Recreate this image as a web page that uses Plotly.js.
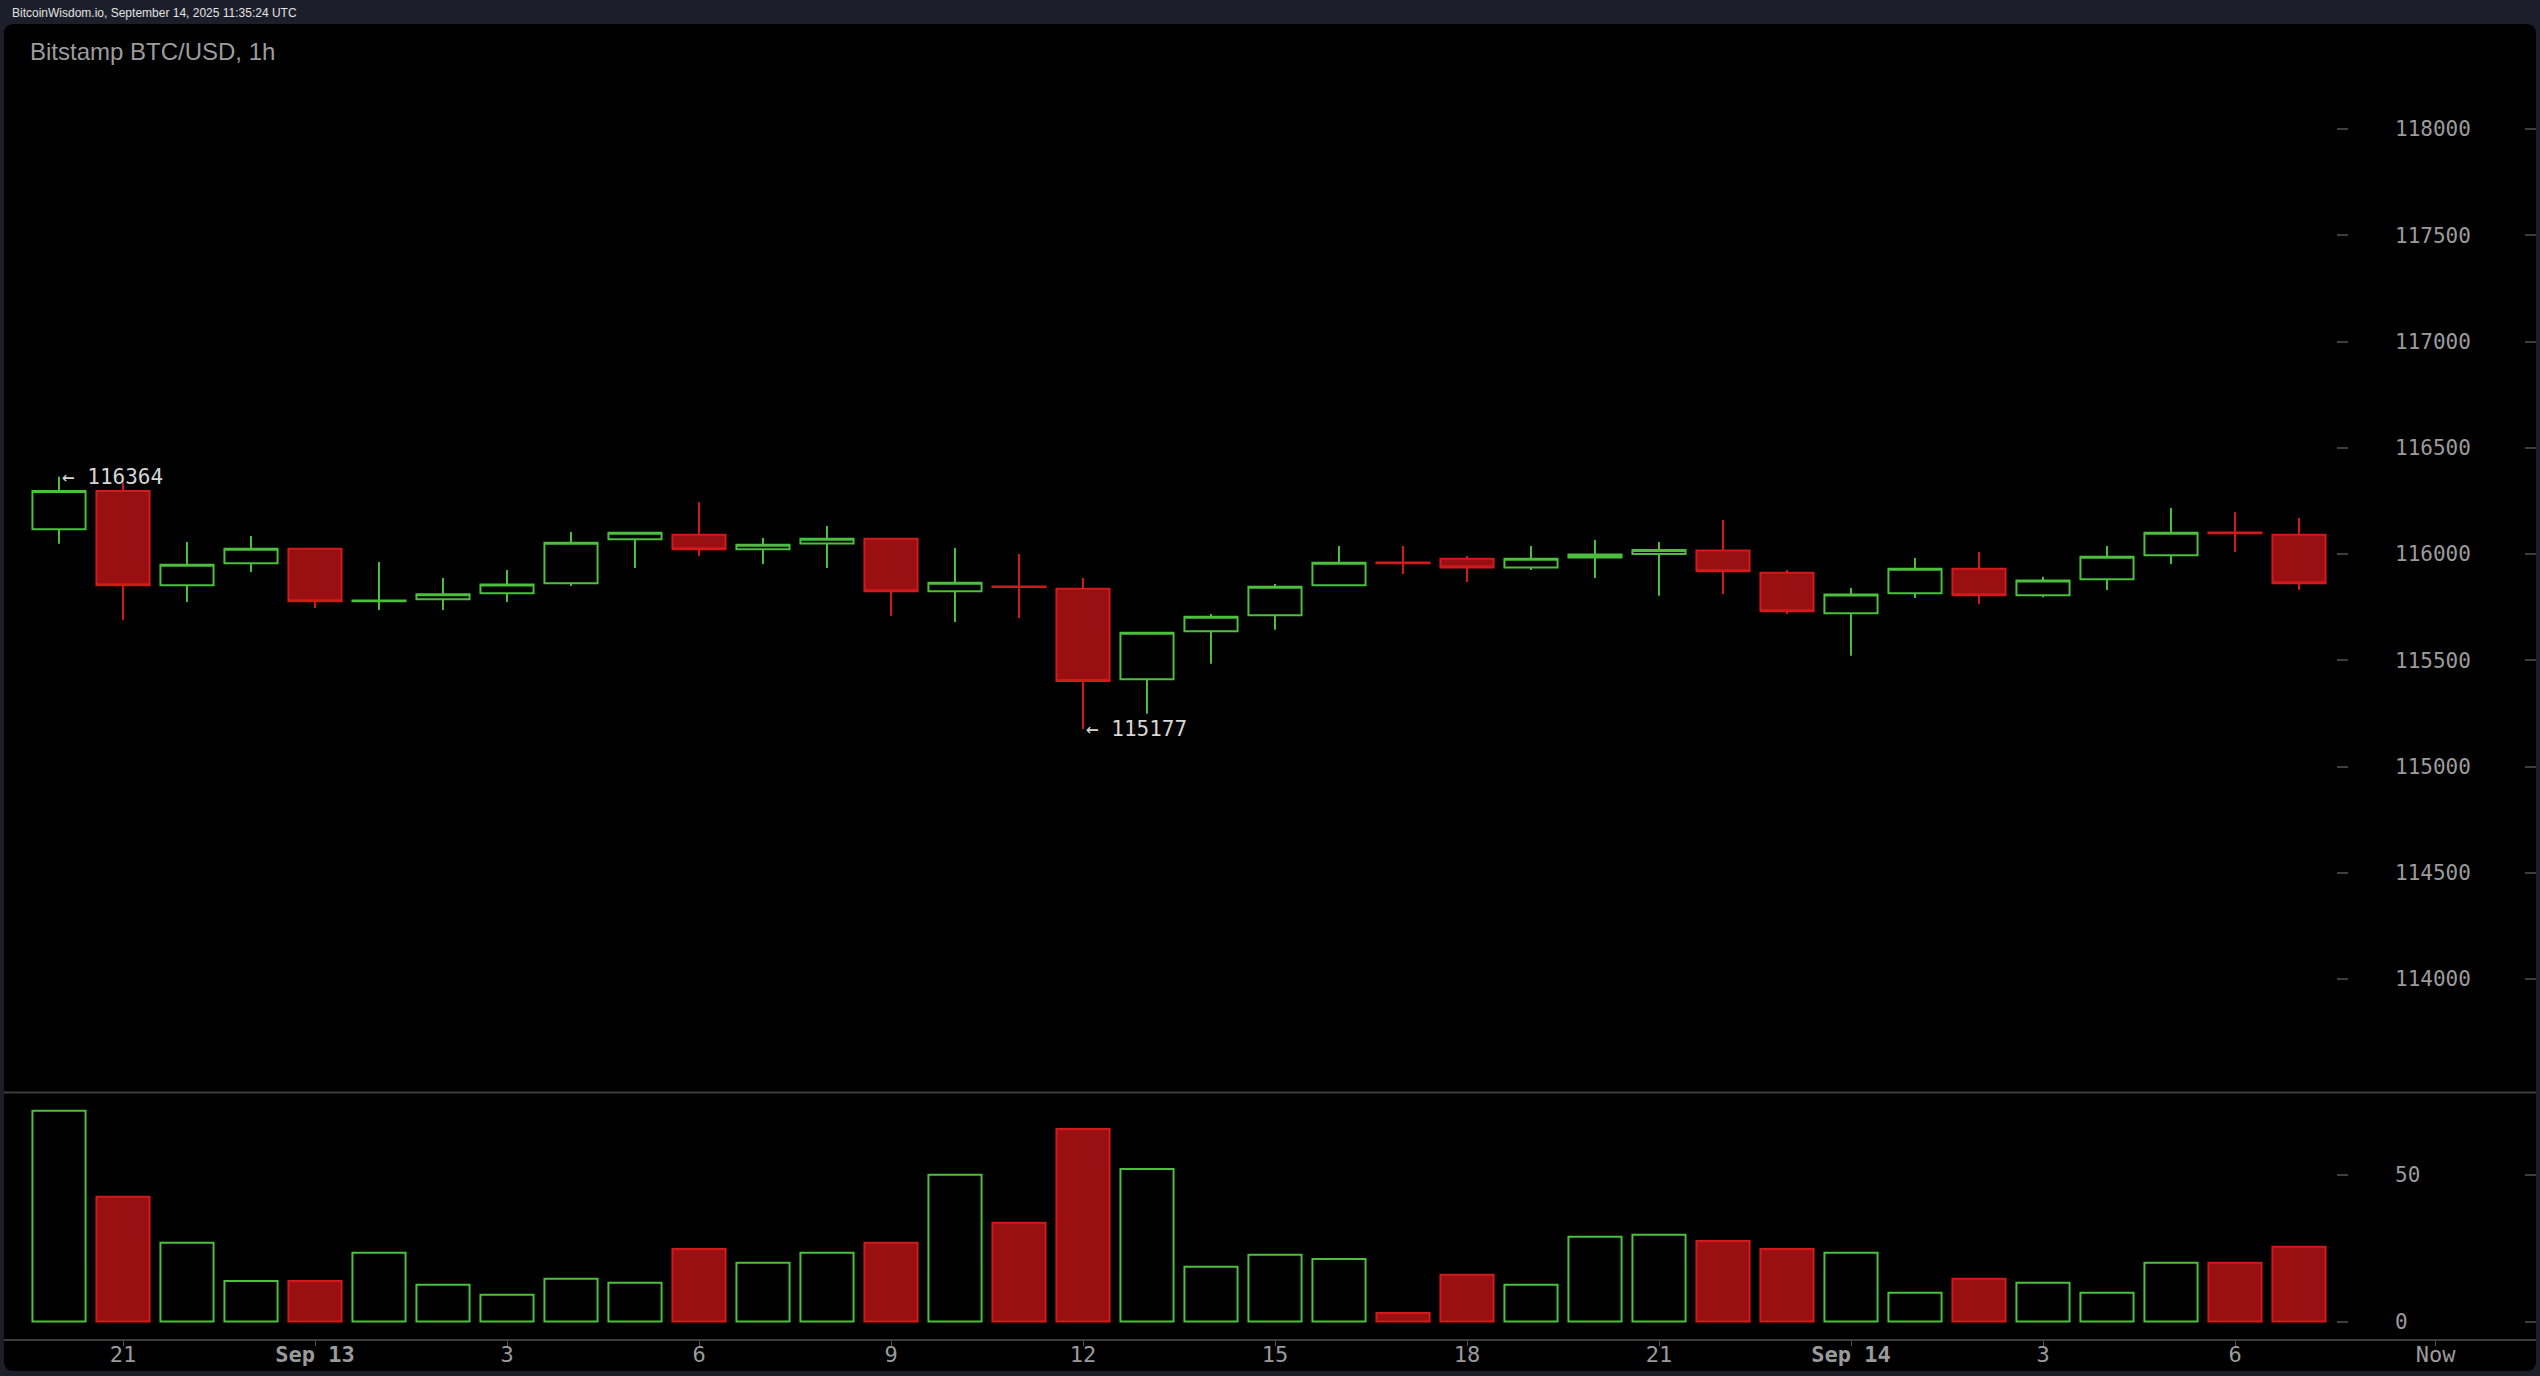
<!DOCTYPE html>
<html>
<head>
<meta charset="utf-8">
<script src="https://cdn.plot.ly/plotly-3.0.1.min.js"></script>
<style>
  html, body { margin: 0; padding: 0; background: #1c1f29; overflow: hidden; }
  #chart { width: 2540px; height: 1376px; }
</style>
</head>
<body>
<div id="chart"></div>
<script>
// ---- data ----
const times = [
  "2025-09-12 20:00","2025-09-12 21:00","2025-09-12 22:00","2025-09-12 23:00",
  "2025-09-13 00:00","2025-09-13 01:00","2025-09-13 02:00","2025-09-13 03:00",
  "2025-09-13 04:00","2025-09-13 05:00","2025-09-13 06:00","2025-09-13 07:00",
  "2025-09-13 08:00","2025-09-13 09:00","2025-09-13 10:00","2025-09-13 11:00",
  "2025-09-13 12:00","2025-09-13 13:00","2025-09-13 14:00","2025-09-13 15:00",
  "2025-09-13 16:00","2025-09-13 17:00","2025-09-13 18:00","2025-09-13 19:00",
  "2025-09-13 20:00","2025-09-13 21:00","2025-09-13 22:00","2025-09-13 23:00",
  "2025-09-14 00:00","2025-09-14 01:00","2025-09-14 02:00","2025-09-14 03:00",
  "2025-09-14 04:00","2025-09-14 05:00","2025-09-14 06:00","2025-09-14 07:00"
];
const openP  = [116117,116297,115853,115956,116025,115778,115787,115815,115862,116069,116091,116022,
                116050,116072,115825,115847,115837,115411,115637,115712,115853,115960,115978,115937,
                115983,116000,116016,115912,115721,115815,115931,115806,115881,115994,116101,116091];
const highP  = [116364,116335,116056,116085,116030,115962,115887,115925,116103,116100,116244,116075,
                116132,116075,116028,116000,115887,115630,115718,115859,116038,116038,115991,116038,
                116066,116056,116160,115925,115840,115981,116009,115893,116038,116216,116197,116169];
const lowP   = [116048,115690,115774,115915,115746,115737,115737,115774,115850,115934,115991,115953,
                115934,115709,115680,115699,115177,115248,115483,115643,115853,115906,115868,115925,
                115887,115803,115812,115718,115521,115793,115765,115797,115831,115953,116009,115831];
const closeP = [116297,115853,115950,116025,115778,115781,115811,115856,116053,116100,116022,116044,
                116072,115825,115865,115845,115402,115630,115705,115846,115959,115957,115937,115978,
                115998,116019,115919,115731,115809,115931,115806,115875,115987,116100,116098,115862];
const volume = [71.7,42.4,26.8,13.8,13.8,23.4,12.5,9.1,14.5,13.2,24.7,20.0,
                23.4,26.8,49.9,33.6,65.5,51.9,18.6,22.7,21.3,2.9,15.9,12.5,
                28.8,29.5,27.4,24.7,23.4,9.8,14.5,13.2,9.8,20.0,20.0,25.4];
const xTickTimes  = ["2025-09-12 21:00","2025-09-13 00:00","2025-09-13 03:00","2025-09-13 06:00",
                     "2025-09-13 09:00","2025-09-13 12:00","2025-09-13 15:00","2025-09-13 18:00",
                     "2025-09-13 21:00","2025-09-14 00:00","2025-09-14 03:00","2025-09-14 06:00",
                     "2025-09-14 09:08"];
const xTickLabels = ["21","<b>Sep 13</b>","3","6","9","12","15","18","21","<b>Sep 14</b>","3","6","Now"];
const priceTicks  = [114000,114500,115000,115500,116000,116500,117000,117500,118000];
const volumeTicks = [0,50];
const headerText  = "BitcoinWisdom.io, September 14, 2025 11:35:24 UTC";
const titleText   = "Bitstamp BTC/USD, 1h";

// ---- styling ----
const GREEN = "#4cbf3e", RED_LINE = "#d21a1d", RED_FILL = "#990f12";
const AX_TXT = "#9b9b9b", AX_LINE = "#3d3d3d";
const W = 2540, H = 1376, ML = 4, MR = 4, MT = 24, MB = 37;
const PW = W - ML - MR, PH = H - MT - MB;
const px = x => (x - ML) / PW;
const py = y => (H - MB - y) / PH;
const HOUR = 3600000;
const t0 = Date.parse(times[0].replace(" ", "T") + ":00Z");

const SEP = 1092.5;
const sepY = py(SEP);
// price axis: 116000 at y=554, 0.2125 px per $
const pScale = 0.2125, p0y = 554;
const priceRange = [116000 - (SEP - p0y) / pScale, 116000 + (p0y - MT) / pScale];
const vScale = 2.94, v0y = 1321.5;
const volRange = [-(H - MB - v0y) / vScale, (v0y - SEP) / vScale];

const isUp = closeP.map((c, i) => c >= openP[i]);

// high / low markers from data
let iMax = 0, iMin = 0;
highP.forEach((v, i) => { if (v > highP[iMax]) iMax = i; });
lowP.forEach((v, i) => { if (v < lowP[iMin]) iMin = i; });

// rounded panel path in paper coords
function panelPath(x0, y0, x1, y1, r) {
  const P = (x, y) => px(x).toFixed(6) + "," + py(y).toFixed(6);
  return "M" + P(x0 + r, y0) + " L" + P(x1 - r, y0) + " Q" + P(x1, y0) + " " + P(x1, y0 + r) +
         " L" + P(x1, y1 - r) + " Q" + P(x1, y1) + " " + P(x1 - r, y1) +
         " L" + P(x0 + r, y1) + " Q" + P(x0, y1) + " " + P(x0, y1 - r) +
         " L" + P(x0, y0 + r) + " Q" + P(x0, y0) + " " + P(x0 + r, y0) + " Z";
}

const candle = {
  type: "candlestick", x: times, open: openP, high: highP, low: lowP, close: closeP,
  xaxis: "x", yaxis: "y", hoverinfo: "skip", showlegend: false, whiskerwidth: 0,
  increasing: { line: { color: GREEN, width: 2 }, fillcolor: "rgba(0,0,0,0)" },
  decreasing: { line: { color: RED_LINE, width: 2 }, fillcolor: RED_FILL }
};
const vol = {
  type: "bar", x: times, y: volume, xaxis: "x", yaxis: "y2", hoverinfo: "skip", showlegend: false,
  marker: { color: isUp.map(u => u ? "rgba(0,0,0,0)" : RED_FILL),
            line: { color: isUp.map(u => u ? GREEN : RED_LINE), width: 2 } }
};
const dummy3 = { type: "scatter", x: [], y: [], xaxis: "x", yaxis: "y3", showlegend: false, hoverinfo: "skip" };
const dummy4 = { type: "scatter", x: [], y: [], xaxis: "x", yaxis: "y4", showlegend: false, hoverinfo: "skip" };

const monoTick = { family: "DejaVu Sans Mono", size: 21, color: AX_TXT };
const yCommon = {
  anchor: "free", side: "right", showgrid: false, zeroline: false, showline: false,
  ticks: "inside", ticklen: 11, tickwidth: 2, tickcolor: AX_LINE, fixedrange: true
};

const layout = {
  width: W, height: H,
  margin: { l: ML, r: MR, t: MT, b: MB, pad: 0 },
  paper_bgcolor: "#1c1f29", plot_bgcolor: "rgba(0,0,0,0)",
  showlegend: false, bargap: 0.17, boxgap: 0.17, boxgroupgap: 0,
  title: { text: titleText, x: 30 / W, xref: "container", xanchor: "left",
           y: 1 - 52 / H, yref: "container", yanchor: "middle",
           font: { family: "Liberation Sans", size: 24, color: "#9c9c9c" } },
  xaxis: {
    type: "date", domain: [0, 1], anchor: "y2",
    range: [t0 - (59 - ML) / 64 * HOUR, t0 + (W - MR - 59) / 64 * HOUR],
    showgrid: false, zeroline: false, showline: true, linecolor: AX_LINE, linewidth: 2,
    ticks: "outside", ticklen: 5, tickwidth: 1, tickcolor: "#555",
    tickvals: xTickTimes, ticktext: xTickLabels, ticklabelstandoff: -10,
    tickfont: { family: "DejaVu Sans Mono", size: 22, color: AX_TXT },
    rangeslider: { visible: false }, fixedrange: true
  },
  yaxis: Object.assign({}, yCommon, {
    domain: [sepY, 1], range: priceRange, position: px(2348),
    tickvals: priceTicks, ticktext: priceTicks.map(String), tickfont: monoTick, ticklabelstandoff: 46
  }),
  yaxis2: Object.assign({}, yCommon, {
    domain: [0, sepY], range: volRange, position: px(2348),
    tickvals: volumeTicks, ticktext: volumeTicks.map(String), tickfont: monoTick, ticklabelstandoff: 46
  }),
  yaxis3: Object.assign({}, yCommon, {
    overlaying: "y", range: priceRange, position: 1, tickvals: priceTicks, showticklabels: false
  }),
  yaxis4: Object.assign({}, yCommon, {
    overlaying: "y2", range: volRange, position: 1, tickvals: volumeTicks, showticklabels: false
  }),
  shapes: [
    { type: "path", xref: "paper", yref: "paper", layer: "below",
      path: panelPath(4, 24, 2536, 1371, 10), fillcolor: "#000000", line: { width: 0 } },
    { type: "line", xref: "paper", yref: "paper", x0: 0, x1: 1, y0: sepY, y1: sepY,
      line: { color: AX_LINE, width: 2 }, layer: "above" }
  ],
  annotations: [
    { xref: "paper", yref: "paper", x: px(10), y: py(13), xanchor: "left", yanchor: "middle",
      text: headerText, showarrow: false,
      font: { family: "Liberation Sans", size: 12, color: "#e2e2e2" } },
    { xref: "x", yref: "y", x: times[iMax], y: highP[iMax], xanchor: "left", yanchor: "middle",
      xshift: 1, text: "← " + highP[iMax], showarrow: false,
      font: { family: "DejaVu Sans Mono", size: 21, color: "#d6d6d6" } },
    { xref: "x", yref: "y", x: times[iMin], y: lowP[iMin], xanchor: "left", yanchor: "middle",
      xshift: 1, text: "← " + lowP[iMin], showarrow: false,
      font: { family: "DejaVu Sans Mono", size: 21, color: "#d6d6d6" } }
  ]
};

Plotly.newPlot("chart", [vol, candle, dummy3, dummy4], layout, { staticPlot: true, displayModeBar: false });
</script>
</body>
</html>
